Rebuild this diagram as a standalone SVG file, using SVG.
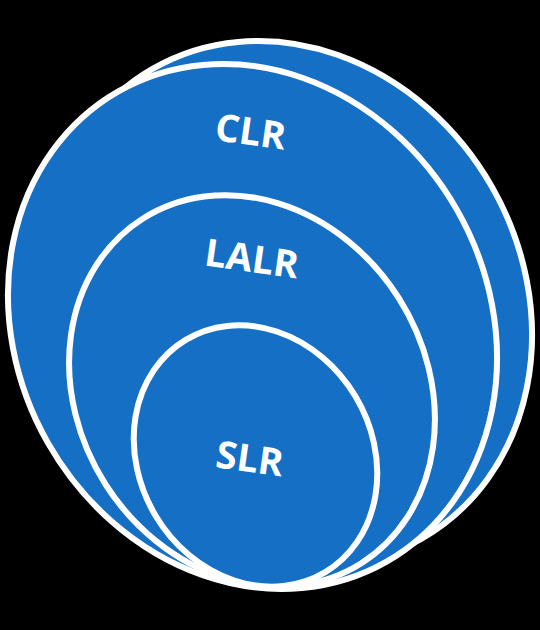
<svg xmlns="http://www.w3.org/2000/svg" width="540" height="630" viewBox="0 0 540 630">
<style>
.ring{fill:#1570C5;stroke:#FFFFFF;stroke-width:6}
.lbl{fill:#FFFFFF;font-family:"Open Sans","Liberation Sans",sans-serif;font-weight:bold;font-size:38px;text-anchor:middle;dominant-baseline:central}
</style>
<rect width="540" height="630" fill="#000000"/>
<g id="back">
<ellipse class="ring" cx="287.5" cy="303.5" rx="235.4" ry="270.7" transform="rotate(-29.7 287.5 303.5)"/>
</g>
<g id="clr">
<ellipse class="ring" cx="252.5" cy="326.5" rx="235.4" ry="270.7" transform="rotate(-29.7 252.5 326.5)"/>
<text class="lbl" x="251" y="130" transform="rotate(8 251 130)">CLR</text>
</g>
<g id="lalr">
<ellipse class="ring" cx="252" cy="391" rx="173.7" ry="204" transform="rotate(-32.4 252 391)"/>
<text class="lbl" x="252" y="257" transform="rotate(8 252 257)">LALR</text>
</g>
<g id="slr">
<ellipse class="ring" cx="255.5" cy="456" rx="116.4" ry="135.5" transform="rotate(-31 255.5 456)"/>
<text class="lbl" x="250" y="457" transform="rotate(8 250 457)">SLR</text>
</g>
<g id="connectors"/>
</svg>
